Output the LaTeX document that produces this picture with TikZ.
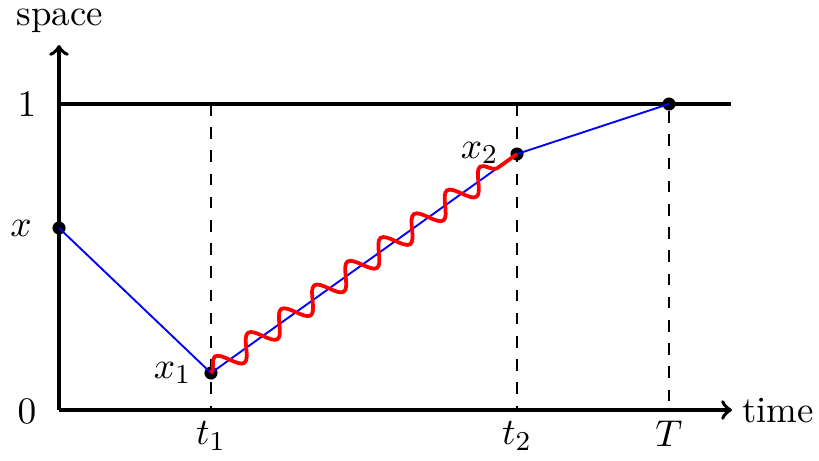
\documentclass[tikz,border=0pt]{standalone}
\usetikzlibrary{decorations.pathmorphing}
\begin{document}
\begin{tikzpicture}[x=0.0103cm,y=-0.0103cm,
  axis/.style={line width=1.1pt},
  guide/.style={line width=0.45pt,dash pattern=on 3.4pt off 3.4pt},
  path/.style={blue,line width=0.55pt},
  wave/.style={red,line width=1.1pt,decorate,decoration={snake,amplitude=0.115cm,segment length=0.42cm,post length=0.12cm}},
  dot/.style={circle,fill=black,inner sep=0pt,minimum size=0.135cm},
  lbl/.style={inner sep=0pt,font=\fontsize{10.8}{13}\selectfont}]
\useasboundingbox (0,0) rectangle (819,461);
% axes
\coordinate (O) at (59,410);
\coordinate (Ytop) at (59,45);
\coordinate (Xend) at (732,410);
\draw[axis,->] (O) -- (Ytop);
\draw[axis,->] (O) -- (Xend);
\coordinate (L1) at (59,104);
\coordinate (R1) at (731,104);
\draw[axis] (L1) -- (R1);
% points
\node[dot] (px) at (59,228) {};
\node[dot] (p1) at (211,373) {};
\node[dot] (p2) at (517,154) {};
\node[dot] (pT) at (669,104) {};
% guides
\coordinate (t1) at (211,410);
\coordinate (t2) at (517,410);
\coordinate (tT) at (669,410);
\coordinate (t1top) at (211,104);
\coordinate (t2top) at (517,104);
\draw[guide] (t1top) -- (t1);
\draw[guide] (t2top) -- (t2);
\draw[guide] (pT) -- (tT);
% paths
\draw[path] (px.center) -- (p1.center) -- (p2.center) -- (pT.center);
\draw[wave] (p1.center) -- (p2.center);
% labels
\node[lbl,anchor=base] (lspace) at (60,25) {space};
\node[lbl] (ltime) at (778,411) {time};
\node[lbl] (l1) at (27,104) {$1$};
\node[lbl] (l0) at (27,411) {$0$};
\node[lbl] (lx) at (21,228) {$x$};
\node[lbl,anchor=east] (lx1) at (192,373) {$x_1$};
\node[lbl,anchor=east] (lx2) at (499,153) {$x_2$};
\node[lbl] (lt1) at (211,436) {$t_1$};
\node[lbl] (lt2) at (517,436) {$t_2$};
\node[lbl] (lT) at (669,434) {$T$};
\end{tikzpicture}
\end{document}
